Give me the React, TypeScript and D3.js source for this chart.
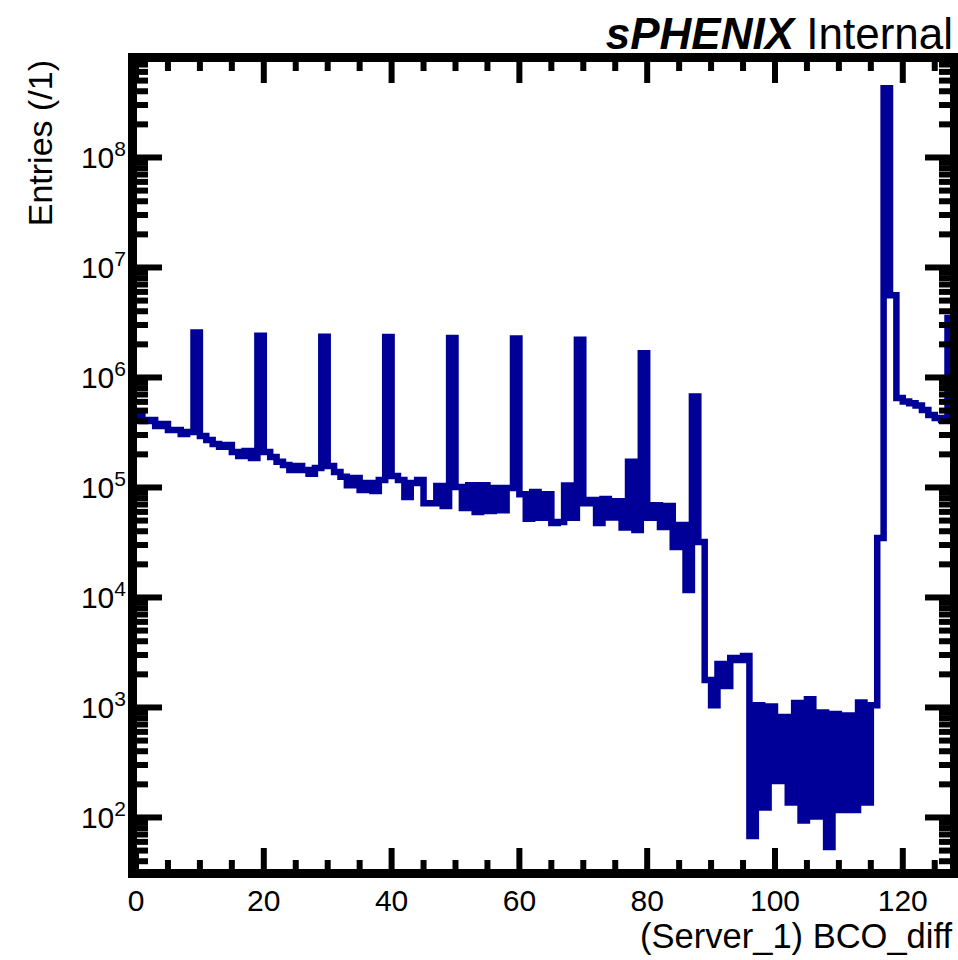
import React from 'react';
import * as d3 from 'd3';

// ---------------- data ----------------
const xMin = 0;
const xMax = 128;
// bin contents of the BCO_diff histogram, bins [i, i+1)
const binContents: number[] = [
  // 0-9
  4.47e5, 4.02e5, 4.11e5, 3.62e5, 3.78e5, 3.33e5, 3.33e5, 3.06e5, 3.19e5, 2.56e6,
  // 10-19
  2.94e5, 2.7e5, 2.49e5, 2.34e5, 2.43e5, 2.1e5, 1.93e5, 2.15e5, 1.85e5, 2.4e6,
  // 20-29
  2.1e5, 1.89e5, 1.71e5, 1.6e5, 1.44e5, 1.57e5, 1.44e5, 1.33e5, 1.5e5, 2.35e6,
  // 30-39
  1.57e5, 1.38e5, 1.25e5, 1.05e5, 1.22e5, 9.5e4, 1.1e5, 9.3e4, 1.17e5, 2.33e6,
  // 40-49
  1.27e5, 1.17e5, 8.2e4, 1.1e5, 1.17e5, 7.2e4, 7.2e4, 1.03e5, 6.8e4, 2.28e6,
  // 50-59
  1.01e5, 6.5e4, 1.05e5, 6.0e4, 1.05e5, 6.1e4, 9.9e4, 6.2e4, 9.9e4, 2.26e6,
  // 60-69
  8.7e4, 5.2e4, 9.1e4, 5.3e4, 8.7e4, 4.75e4, 4.86e4, 1.04e5, 5.3e4, 2.2e6,
  // 70-79
  7.2e4, 7.7e4, 4.75e4, 7.85e4, 5.34e4, 7.5e4, 4.33e4, 1.71e5, 4.1e4, 1.66e6,
  // 80-89
  5.3e4, 6.9e4, 4.38e4, 6.8e4, 2.88e4, 4.56e4, 1.17e4, 6.7e5, 3.2e4, 1.78e3,
  // 90-99
  1.05e3, 2.49e3, 1.57e3, 2.82e3, 2.7e3, 2.94e3, 68, 1.05e3, 123, 1.02e3,
  // 100-109
  215, 820, 137, 1.1e3, 94, 1.19e3, 102, 900, 54, 873,
  // 110-119
  117, 844, 117, 1.11e3, 137, 1.05e3, 3.47e4, 4.26e8, 5.6e6, 6.5e5,
  // 120-127
  6.05e5, 5.83e5, 5.57e5, 5.06e5, 4.56e5, 4.28e5, 4.11e5, 3.47e6,
];

const yLow = 34.0;
const yHigh = 7.38e8;

const xMajorTicks = [0, 20, 40, 60, 80, 100, 120];
const xMinorStep = 5;
const yDecades = [2, 3, 4, 5, 6, 7, 8];
const yMinorDecades = [1, 2, 3, 4, 5, 6, 7, 8];
const yMinorMultipliers = [2, 3, 4, 5, 6, 7, 8, 9];

const xTitle = '(Server_1) BCO_diff';
const yTitle = 'Entries (/1)';
const headerBold = 'sPHENIX';
const headerNormal = 'Internal';

const lineColor = '#000099';
const FONT = '"Liberation Sans", Arial, Helvetica, sans-serif';

export default function App() {
  const W = 958;
  const H = 960;
  const inner = { left: 137, right: 950, top: 62, bottom: 869 };

  const x = d3.scaleLinear().domain([xMin, xMax]).range([136, 953.9]);
  const y = d3.scaleLog().domain([yLow, yHigh]).range([inner.bottom, inner.top]);

  const pts: [number, number][] = binContents.map((v, i) => [i, v] as [number, number]);
  pts.push([xMax, binContents[binContents.length - 1]]);
  const line = d3
    .line<[number, number]>()
    .x((d) => x(d[0]))
    .y((d) => y(d[1]))
    .curve(d3.curveStepAfter);
  const pathD = line(pts) || '';

  const xMinor = d3.range(xMin, xMax + 0.001, xMinorStep).filter((v) => v % 20 !== 0);
  const yMinor: number[] = [];
  yMinorDecades.forEach((d) =>
    yMinorMultipliers.forEach((m) => {
      const v = m * Math.pow(10, d);
      if (v > yLow && v < yHigh) yMinor.push(v);
    })
  );

  const xMajLen = 21;
  const xMinLen = 9;
  const yMajLen = 25;
  const yMinLen = 11;
  const tickW = 6;

  return (
    <svg
      width={W}
      height={H}
      viewBox={`0 0 ${W} ${H}`}
      style={{ position: 'absolute', left: 0, top: 0, background: '#fff' }}
    >
      <rect x={0} y={0} width={W} height={H} fill="#fff" />
      <defs>
        <clipPath id="plotclip">
          <rect x={inner.left} y={inner.top} width={inner.right - inner.left} height={inner.bottom - inner.top} />
        </clipPath>
      </defs>

      {/* histogram */}
      <g clipPath="url(#plotclip)">
        <path d={pathD} fill="none" stroke={lineColor} strokeWidth={6.5} strokeLinejoin="miter" strokeLinecap="butt" />
      </g>

      {/* ticks */}
      <g stroke="#000" strokeWidth={tickW} strokeLinecap="butt">
        {xMajorTicks.map((v) => (
          <g key={'xm' + v}>
            <line x1={x(v)} x2={x(v)} y1={inner.bottom} y2={inner.bottom - xMajLen} />
            <line x1={x(v)} x2={x(v)} y1={inner.top} y2={inner.top + xMajLen} />
          </g>
        ))}
        {xMinor.map((v) => (
          <g key={'xn' + v}>
            <line x1={x(v)} x2={x(v)} y1={inner.bottom} y2={inner.bottom - xMinLen} />
            <line x1={x(v)} x2={x(v)} y1={inner.top} y2={inner.top + xMinLen} />
          </g>
        ))}
        {yDecades.map((d) => {
          const yy = y(Math.pow(10, d));
          return (
            <g key={'ym' + d}>
              <line x1={inner.left} x2={inner.left + yMajLen} y1={yy} y2={yy} />
              <line x1={inner.right} x2={inner.right - yMajLen} y1={yy} y2={yy} />
            </g>
          );
        })}
        {yMinor.map((v, i) => {
          const yy = y(v);
          return (
            <g key={'yn' + i}>
              <line x1={inner.left} x2={inner.left + yMinLen} y1={yy} y2={yy} />
              <line x1={inner.right} x2={inner.right - yMinLen} y1={yy} y2={yy} />
            </g>
          );
        })}
      </g>

      {/* frame */}
      <rect
        x={inner.left - 4.5}
        y={inner.top - 4.5}
        width={inner.right - inner.left + 9}
        height={inner.bottom - inner.top + 9}
        fill="none"
        stroke="#000"
        strokeWidth={9}
      />

      {/* x tick labels */}
      <g fontFamily={FONT} fontSize={30} fill="#000" textAnchor="middle">
        {xMajorTicks.map((v) => (
          <text key={'xl' + v} x={x(v)} y={911}>
            {v}
          </text>
        ))}
      </g>

      {/* y tick labels */}
      <g fontFamily={FONT} fill="#000" textAnchor="end">
        {yDecades.map((d) => (
          <text key={'yl' + d} x={126} y={y(Math.pow(10, d)) + 10.5} fontSize={30}>
            10
            <tspan dy={-12} fontSize={21}>
              {d}
            </tspan>
          </text>
        ))}
      </g>

      {/* axis titles */}
      <text x={952} y={948} fontFamily={FONT} fontSize={34.5} textAnchor="end" fill="#000">
        {xTitle}
      </text>
      <text
        transform={`translate(52, 60) rotate(-90)`}
        fontFamily={FONT}
        fontSize={34}
        textAnchor="end"
        fill="#000"
      >
        {yTitle}
      </text>

      {/* header */}
      <text x={953} y={49} fontFamily={FONT} fontSize={44} textAnchor="end" fill="#000">
        <tspan fontWeight="bold" fontStyle="italic">
          {headerBold}
        </tspan>
        <tspan> {headerNormal}</tspan>
      </text>
    </svg>
  );
}
